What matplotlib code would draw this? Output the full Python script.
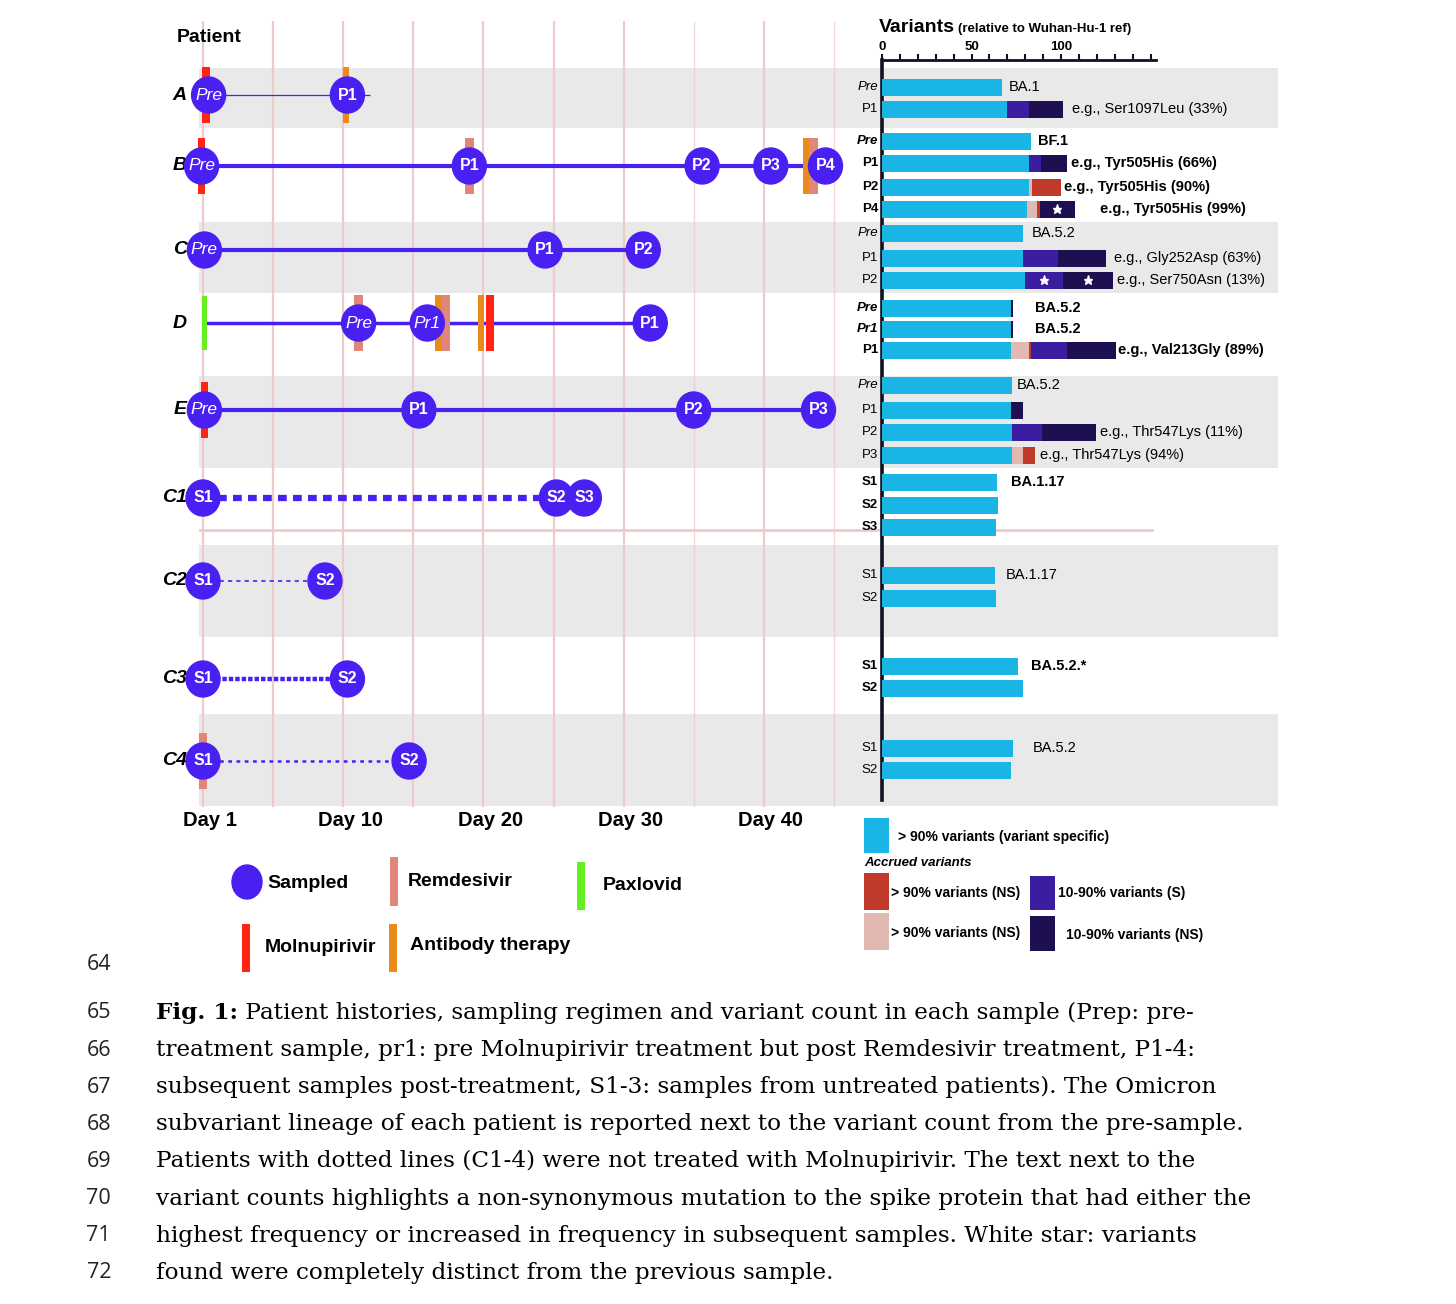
import matplotlib
matplotlib.use('Agg')
import matplotlib.pyplot as plt
from matplotlib.patches import Ellipse, Rectangle

plt.rcParams['font.family'] = ['Liberation Sans', 'DejaVu Sans']

W, H = 1456, 1304

# ---------------- data ----------------
patients = ['A', 'B', 'C', 'D', 'E', 'C1', 'C2', 'C3', 'C4']
sample_names = [['Pre', 'P1'], ['Pre', 'P1', 'P2', 'P3', 'P4'], ['Pre', 'P1', 'P2'],
                ['Pre', 'Pr1', 'P1'], ['Pre', 'P1', 'P2', 'P3'], ['S1', 'S2', 'S3'],
                ['S1', 'S2'], ['S1', 'S2'], ['S1', 'S2']]
sample_days = [[0.4, 10.3], [-0.1, 19.0, 35.6, 40.5, 44.4], [0.1, 24.4, 31.4],
               [11.1, 16.0, 31.9], [0.1, 15.4, 35.0, 43.9], [0.0, 25.2, 27.2],
               [0.0, 8.7], [0.0, 10.3], [0.0, 14.7]]
line_start = [0.4, -0.1, 0.1, 0.1, 0.1, 0.0, 0.0, 0.0, 0.0]
line_end = [11.9, 44.4, 31.4, 31.9, 43.9, 27.2, 8.7, 10.3, 14.7]

treat_patient = ['A', 'A', 'B', 'B', 'B', 'B', 'D', 'D', 'D', 'D', 'D', 'D', 'E', 'C4']
treat_drug = ['Molnupirivir', 'Antibody therapy', 'Molnupirivir', 'Remdesivir',
              'Antibody therapy', 'Remdesivir', 'Paxlovid', 'Remdesivir',
              'Antibody therapy', 'Remdesivir', 'Antibody therapy', 'Molnupirivir',
              'Molnupirivir', 'Remdesivir']
treat_day = [0.2, 10.2, -0.1, 19.0, 43.05, 43.55, 0.1, 11.1, 16.8, 17.35, 19.85, 20.45, 0.1, 0.0]

day_ticks = [0, 10, 20, 30, 40]
day_labels = ['Day 1', 'Day 10', 'Day 20', 'Day 30', 'Day 40']
grid_days = [0, 5, 10, 15, 20, 25, 30, 35, 40, 45]

bar_group = ['A', 'A', 'B', 'B', 'B', 'B', 'C', 'C', 'C', 'D', 'D', 'D',
             'E', 'E', 'E', 'E', 'C1', 'C1', 'C1', 'C2', 'C2', 'C3', 'C3', 'C4', 'C4']
bar_sample = ['Pre', 'P1', 'Pre', 'P1', 'P2', 'P4', 'Pre', 'P1', 'P2', 'Pre', 'Pr1', 'P1',
              'Pre', 'P1', 'P2', 'P3', 'S1', 'S2', 'S3', 'S1', 'S2', 'S1', 'S2', 'S1', 'S2']
n_cyan = [67, 70, 83, 82, 82, 81, 79, 79, 80, 72, 72, 72,
          72.5, 72, 72.5, 72.5, 64, 65, 63.5, 63, 63.5, 76, 79, 73, 72]
n_pink = [0, 0, 0, 0, 2, 5.5, 0, 0, 0, 0, 0, 10,
          0, 0, 0, 6.5, 0, 0, 0, 0, 0, 0, 0, 0, 0]
n_red = [0, 0, 0, 0, 16, 1.5, 0, 0, 0, 0, 0, 1,
         0, 0, 0, 6.5, 0, 0, 0, 0, 0, 0, 0, 0, 0]
n_purple = [0, 12, 0, 7, 0, 0, 0, 19, 21, 0, 0, 20.5,
            0, 0, 17, 0, 0, 0, 0, 0, 0, 0, 0, 0, 0]
n_navy = [0, 19, 0, 14.5, 0, 19.5, 0, 27, 28, 1, 1, 27,
          0, 7, 30, 0, 0, 0, 0, 0, 0, 0, 0, 0, 0]
star_bar = [5, 8, 8]
star_seg = ['navy', 'purple', 'navy']
bar_note = ['BA.1', 'e.g., Ser1097Leu (33%)', 'BF.1', 'e.g., Tyr505His (66%)',
            'e.g., Tyr505His (90%)', 'e.g., Tyr505His (99%)', 'BA.5.2',
            'e.g., Gly252Asp (63%)', 'e.g., Ser750Asn (13%)', 'BA.5.2', 'BA.5.2',
            'e.g., Val213Gly (89%)', 'BA.5.2', '', 'e.g., Thr547Lys (11%)',
            'e.g., Thr547Lys (94%)', 'BA.1.17', '', '', 'BA.1.17', '', 'BA.5.2.*', '',
            'BA.5.2', '']

caption_numbers = ['64', '65', '66', '67', '68', '69', '70', '71', '72']
caption_lines = [
    '',
    'Patient histories, sampling regimen and variant count in each sample (Prep: pre-',
    'treatment sample, pr1: pre Molnupirivir treatment but post Remdesivir treatment, P1-4:',
    'subsequent samples post-treatment, S1-3: samples from untreated patients). The Omicron',
    'subvariant lineage of each patient is reported next to the variant count from the pre-sample.',
    'Patients with dotted lines (C1-4) were not treated with Molnupirivir. The text next to the',
    'variant counts highlights a non-synonymous mutation to the spike protein that had either the',
    'highest frequency or increased in frequency in subsequent samples. White star: variants',
    'found were completely distinct from the previous sample.',
]

# ---------------- layout / style ----------------
BLUE = '#4a20f2'
CYAN = '#19b5e5'
PINK = '#e2b8b2'
RED = '#c0392a'
PURPLE = '#3b1e9f'
NAVY = '#1d0f50'
BAND = '#e9e9e9'
GRID = '#eecaca'
drug_color = {'Molnupirivir': '#ff2414', 'Remdesivir': '#e0877a',
              'Antibody therapy': '#e88a1c', 'Paxlovid': '#66ee22'}
drug_width = {'Molnupirivir': 0.55, 'Remdesivir': 0.6, 'Antibody therapy': 0.45, 'Paxlovid': 0.4}

row_y = [95, 166, 250, 323, 410, 498, 581, 679, 761]
bands = [(68, 128), (222, 293), (376, 468), (545, 637), (714, 806)]
line_lw = [0.9, 3, 3, 2.5, 3, 4.5, 1.2, 3.2, 1.8]
line_dash = [None, None, None, None, None, (1.4, 1.0), (2.5, 2.5), (1.0, 0.45), (1.5, 1.8)]
bar_y = [87, 109, 141, 163, 187, 209, 233, 258, 280, 308, 329, 350,
         385, 410, 432, 455, 482, 505, 527, 575, 598, 666, 688, 748, 770]
note_gap = [7, 9, 7, 4, 3, 25, 8, 8, 4, 22, 22, 2, 5, 0, 4, 5, 14, 0, 0, 11, 0, 13, 0, 20, 0]
bold_groups = {'B', 'D', 'C1', 'C3'}
SERIF = ['DejaVu Serif', 'Liberation Serif']
CAP_FS = 16.7


def px2day(px):
    return (px - 203) / 14.02


def frac(x0, y0, x1, y1):
    return [x0 / W, 1 - y1 / H, (x1 - x0) / W, (y1 - y0) / H]


fig = plt.figure(figsize=(W / 100, H / 100), dpi=100)

# background axes in pixel space
ax_bg = fig.add_axes([0, 0, 1, 1])
ax_bg.set_xlim(0, W)
ax_bg.set_ylim(H, 0)
ax_bg.axis('off')
for (t, b) in bands:
    ax_bg.add_patch(Rectangle((199, t), 1278 - 199, b - t, color=BAND, lw=0, zorder=0))
ax_bg.plot([200, 1152], [530, 530], color=GRID, lw=2, zorder=1)

# ---------------- timeline ----------------
ax_t = fig.add_axes(frac(140, 0, 860, 850))
ax_t.set_xlim(px2day(140), px2day(860))
ax_t.set_ylim(850, 0)
ax_t.axis('off')
ax_t.patch.set_alpha(0)

for d in grid_days:
    ax_t.plot([d, d], [22, 806], color=GRID, lw=1.6 if d not in (35, 45) else 1.0,
              alpha=1 if d not in (35, 45) else 0.7, zorder=1)

for d, lab in zip(day_ticks, day_labels):
    ax_t.text(d + 0.5, 821, lab, ha='center', va='center', fontsize=14.5, fontweight='bold')

ax_t.text(px2day(177), 38, 'Patient', ha='left', va='center', fontsize=14, fontweight='bold')

for i, p in enumerate(patients):
    y = row_y[i]
    ax_t.text(px2day(187), y, p, ha='right', va='center', fontsize=14,
              fontweight='bold', fontstyle='italic', zorder=2)
    kw = dict(color=BLUE, lw=line_lw[i], solid_capstyle='butt', zorder=2)
    ln, = ax_t.plot([line_start[i], line_end[i]], [y, y], **kw)
    if line_dash[i] is not None:
        ln.set_dashes(line_dash[i])
    for name, d in zip(sample_names[i], sample_days[i]):
        ax_t.add_patch(Ellipse((d, y), 34 / 14.02, 36, color=BLUE, zorder=4))
        italic = name.startswith('Pr')
        ax_t.text(d, y, name, color='white', ha='center', va='center',
                  fontsize=12.5 if italic else 11.5,
                  fontstyle='italic' if italic else 'normal',
                  fontweight='normal' if italic else 'bold', zorder=5)

for p, drug, d in zip(treat_patient, treat_drug, treat_day):
    y = row_y[patients.index(p)]
    w = drug_width[drug]
    hh = 28 if drug != 'Paxlovid' else 27
    ax_t.add_patch(Rectangle((d - w / 2, y - hh), w, 2 * hh, color=drug_color[drug],
                             lw=0, zorder=3))

# ---------------- variant bars ----------------
ax_b = fig.add_axes(frac(882, 60, 1156, 800))
ax_b.set_xlim(0, 153)
ax_b.set_ylim(800, 60)
ax_b.patch.set_alpha(0)
for s in ('right', 'bottom'):
    ax_b.spines[s].set_visible(False)
ax_b.spines['left'].set_linewidth(2.6)
ax_b.spines['top'].set_linewidth(2.0)
ax_b.spines['left'].set_color('#111122')
ax_b.spines['top'].set_color('#111122')
ax_b.xaxis.set_ticks_position('top')
ax_b.set_xticks([0, 50, 100])
ax_b.set_xticks(list(range(10, 160, 10)), minor=True)
ax_b.tick_params(axis='x', which='both', direction='out', length=4, width=1.5,
                 pad=1, labelsize=9.5, color='#111122')
for lbl in ax_b.get_xticklabels():
    lbl.set_fontweight('bold')
ax_b.set_yticks([])

seg_colors = [CYAN, PINK, RED, PURPLE, NAVY]
seg_names = ['cyan', 'pink', 'red', 'purple', 'navy']
seg_vals = [n_cyan, n_pink, n_red, n_purple, n_navy]
seg_pos = {}
for i in range(len(bar_group)):
    left = 0
    for cname, col, vals in zip(seg_names, seg_colors, seg_vals):
        v = vals[i]
        if v > 0:
            ax_b.barh(bar_y[i], v, left=left, height=17, color=col, lw=0, zorder=3)
            seg_pos[(i, cname)] = left + v / 2
            left += v
    bold = bar_group[i] in bold_groups
    italic = bar_sample[i].startswith('Pr')
    ax_b.text(-2.2, bar_y[i], bar_sample[i], ha='right', va='center', fontsize=9.5,
              fontweight='bold' if bold else 'normal',
              fontstyle='italic' if italic else 'normal', clip_on=False, zorder=4)
    if bar_note[i]:
        ax_b.annotate(bar_note[i], xy=(left, bar_y[i]), xytext=(note_gap[i] * 0.72, 0),
                      textcoords='offset points', ha='left', va='center', fontsize=10.5,
                      fontweight='bold' if bold else 'normal', annotation_clip=False)

for bi, sn in zip(star_bar, star_seg):
    ax_b.plot(seg_pos[(bi, sn)], bar_y[bi], marker='*', color='white', ms=6.5,
              mec='white', zorder=5)

ax_bg.text(879, 27, 'Variants', ha='left', va='center', fontsize=14, fontweight='bold')
ax_bg.text(958, 29, '(relative to Wuhan-Hu-1 ref)', ha='left', va='center',
           fontsize=9.5, fontweight='bold')

# ---------------- legends ----------------
ax_bg.add_patch(Ellipse((247, 882), 30, 34, color=BLUE))
ax_bg.text(267, 884, 'Sampled', ha='left', va='center', fontsize=14, fontweight='bold')
leg_items = [('Remdesivir', 390, 857, 906, 408, 882),
             ('Paxlovid', 577, 862, 910, 603, 886),
             ('Molnupirivir', 242, 924, 972, 265, 948),
             ('Antibody therapy', 389, 924, 972, 410, 946)]
for drug, x0, y0, y1, tx, ty in leg_items:
    ax_bg.add_patch(Rectangle((x0, y0), 8, y1 - y0, color=drug_color[drug], lw=0))
    ax_bg.text(tx, ty, drug, ha='left', va='center', fontsize=14, fontweight='bold')

var_leg = [(CYAN, 864, 818, 853, '> 90% variants (variant specific)', 898, 837),
           (RED, 864, 873, 910, '> 90% variants (NS)', 891, 893),
           (PURPLE, 1030, 876, 910, '10-90% variants (S)', 1058, 893),
           (PINK, 864, 913, 950, '> 90% variants (NS)', 891, 933),
           (NAVY, 1030, 916, 951, '10-90% variants (NS)', 1066, 935)]
for col, x0, y0, y1, lab, tx, ty in var_leg:
    ax_bg.add_patch(Rectangle((x0, y0), 25, y1 - y0, color=col, lw=0))
    ax_bg.text(tx, ty, lab, ha='left', va='center', fontsize=10, fontweight='bold')
ax_bg.text(864, 863, 'Accrued variants', ha='left', va='center', fontsize=9.5,
           fontweight='bold', fontstyle='italic')

# ---------------- caption ----------------
cap_y0 = 964
cap_dy = 37.1
renderer = fig.canvas.get_renderer()
for k, (num, line) in enumerate(zip(caption_numbers, caption_lines)):
    y = cap_y0 + (k * cap_dy if k == 0 else 49 + (k - 1) * cap_dy)
    ax_bg.text(111, y, num, ha='right', va='center', fontsize=15.5, color='#222222',
               family=['Open Sans', 'DejaVu Sans'])
    if not line:
        continue
    if k == 1:
        t = ax_bg.text(156, y, 'Fig. 1:', ha='left', va='center', fontsize=CAP_FS,
                       fontweight='bold', family=SERIF)
        bb = t.get_window_extent(renderer=renderer)
        x_end = ax_bg.transData.inverted().transform((bb.x1, bb.y0))[0]
        ax_bg.text(x_end, y, ' ' + line, ha='left', va='center', fontsize=CAP_FS,
                   family=SERIF)
    else:
        ax_bg.text(156, y, line, ha='left', va='center', fontsize=CAP_FS, family=SERIF)

fig.savefig('out.png', dpi=100)
